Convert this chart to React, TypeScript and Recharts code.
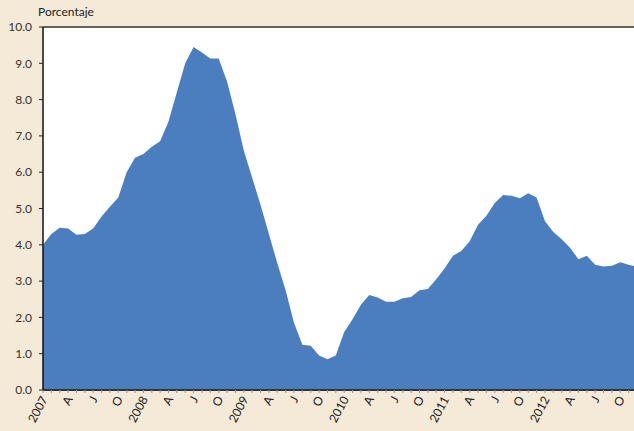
import React from "react";
import { AreaChart, Area, XAxis, YAxis, CartesianGrid, ReferenceLine } from "recharts";

const values2007 = [4.0, 4.3, 4.47, 4.45, 4.28, 4.3, 4.45, 4.78, 5.05, 5.3, 6.0, 6.4];
const values2008 = [6.5, 6.7, 6.85, 7.4, 8.2, 9.0, 9.45, 9.3, 9.13, 9.13, 8.5, 7.6];
const values2009 = [6.6, 5.85, 5.1, 4.3, 3.5, 2.75, 1.85, 1.25, 1.22, 0.95, 0.85, 0.95];
const values2010 = [1.6, 1.95, 2.35, 2.62, 2.55, 2.43, 2.43, 2.53, 2.56, 2.75, 2.78, 3.05];
const values2011 = [3.35, 3.7, 3.83, 4.1, 4.55, 4.8, 5.15, 5.37, 5.35, 5.28, 5.42, 5.3];
const values2012 = [4.65, 4.35, 4.15, 3.92, 3.6, 3.7, 3.45, 3.4, 3.42, 3.52, 3.45, 3.4];

const years = ["2007", "2008", "2009", "2010", "2011", "2012"];
const quarterLetters = ["A", "J", "O"];
const yTicks = [0, 1, 2, 3, 4, 5, 6, 7, 8, 9, 10];

const allValues = [
  ...values2007,
  ...values2008,
  ...values2009,
  ...values2010,
  ...values2011,
  ...values2012,
];
const data = allValues.map((v, i) => ({ i, v }));
const monthTicks = data.map((d) => d.i);

const FONT = "Lato, 'Open Sans', sans-serif";

const labelFor = (i: number) => {
  const m = i % 12;
  if (m === 0) return years[Math.floor(i / 12)];
  if (m % 3 === 0) return quarterLetters[m / 3 - 1];
  return null;
};

const XTick = (props: any) => {
  const { x, y, payload } = props;
  const label = labelFor(payload.value);
  if (!label) return null;
  const ax = x + 5;
  const ay = y + 4;
  return (
    <text
      x={ax}
      y={ay}
      transform={`rotate(-62, ${ax}, ${ay})`}
      textAnchor="end"
      fontSize={12}
      fontFamily={FONT}
      fill="#222"
    >
      {label}
    </text>
  );
};

export default function App() {
  return (
    <div
      style={{
        position: "absolute",
        left: 0,
        top: 0,
        width: 634,
        height: 431,
        overflow: "hidden",
        background: "#F5E9D7",
      }}
    >
      <div
        style={{
          position: "absolute",
          left: 38,
          top: 4,
          fontFamily: FONT,
          fontSize: 12,
          color: "#222",
        }}
      >
        Porcentaje
      </div>
      <AreaChart
        width={642}
        height={431}
        data={data}
        margin={{ top: 27, right: 5, bottom: 0, left: 0 }}
      >
        <CartesianGrid fill="#ffffff" stroke="none" horizontal={false} vertical={false} />
        <XAxis
          dataKey="i"
          type="number"
          domain={[0, 71]}
          ticks={monthTicks}
          interval={0}
          height={41}
          tick={<XTick />}
          tickSize={3}
          tickLine={{ stroke: "#999" }}
          axisLine={{ stroke: "#333", strokeWidth: 2 }}
        />
        <YAxis
          type="number"
          domain={[0, 10]}
          ticks={yTicks}
          interval={0}
          width={43}
          tickSize={4}
          tickMargin={7}
          tickFormatter={(v: number) => v.toFixed(1)}
          tick={{ fontSize: 12, fontFamily: FONT, fill: "#333" }}
          tickLine={{ stroke: "#222" }}
          axisLine={{ stroke: "#111", strokeWidth: 1.5 }}
        />
        <ReferenceLine y={10} stroke="#333" strokeWidth={1.5} />
        <Area
          type="linear"
          dataKey="v"
          stroke="none"
          fill="#4A7EBF"
          fillOpacity={1}
          isAnimationActive={false}
        />
      </AreaChart>
    </div>
  );
}
